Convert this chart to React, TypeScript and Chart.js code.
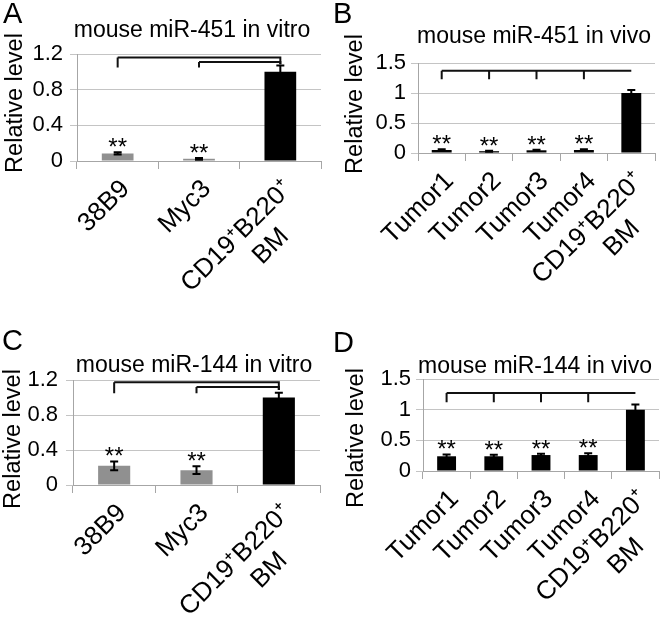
import React, { useEffect, useRef } from "react";
import { Chart, registerables } from "chart.js";

Chart.register(...registerables);

const FONT = "'Liberation Sans', Arial, Helvetica, sans-serif";
const GRID = "#c4c4c4";
const AXIS = "#a6a6a6";

// ---------- data ----------
const vitroCategories = ["38B9", "Myc3", ["CD19\u207AB220\u207A", "BM     "]];
const vivoCategories = ["Tumor1", "Tumor2", "Tumor3", "Tumor4", ["CD19\u207AB220\u207A", "BM     "]];

const mir451VitroValues = [0.085, 0.025, 1.0];
const mir451VitroErrors = [0.012, 0.01, 0.07];
const mir451VivoValues = [0.05, 0.03, 0.045, 0.05, 1.0];
const mir451VivoErrors = [0.012, 0.008, 0.01, 0.012, 0.05];
const mir144VitroValues = [0.22, 0.17, 1.0];
const mir144VitroErrors = [0.05, 0.045, 0.055];
const mir144VivoValues = [0.24, 0.24, 0.26, 0.26, 1.0];
const mir144VivoErrors = [0.03, 0.025, 0.02, 0.03, 0.085];

const vitroStars = ["**", "**", ""];
const vivoStars = ["**", "**", "**", "**", ""];

const vitroTickLabels = [0, 0.4, 0.8, 1.2];
const vivoTickLabels = [0, 0.5, 1, 1.5];

const vitroBarColors = ["#909090", "#909090", "#000000"];
const vivoBarColors = ["#000000", "#000000", "#000000", "#000000", "#000000"];

// significance brackets (data units)
const mir451VitroBracketLevels = [1.16, 1.11];
const mir451VitroBracketStarts = [0, 1];
const mir144VitroBracketLevels = [1.175, 1.12];
const mir144VitroBracketStarts = [0, 1];
const vitroBracketDrop = 1.05;
const vitroBracketEndDrop = 1.085;
const mir451VivoBracketLevel = 1.37;
const mir451VivoBracketDrop = 1.23;
const mir144VivoBracketLevel = 1.27;
const mir144VivoBracketDrop = 1.12;

type Bracket = { level: number; start: number; end: number; drops: number[]; dropTo: number; endDrop: number | null };

const vitroBrackets = (levels: number[], starts: number[], n: number): Bracket[] =>
  levels.map((lv, i) => ({ level: lv, start: starts[i], end: n - 1, drops: [starts[i]], dropTo: vitroBracketDrop, endDrop: vitroBracketEndDrop }));
const vivoBracket = (level: number, drop: number, n: number): Bracket[] => [
  { level, start: 0, end: n - 1, drops: Array.from({ length: n - 1 }, (_, i) => i), dropTo: drop, endDrop: null },
];

type Spec = {
  left: number; top: number; w: number; h: number;
  area: { left: number; right: number; top: number; bottom: number };
  letter: string; letterPos: [number, number];
  title: string; titlePos: [number, number];
  yTitlePos: [number, number];
  labels: any[]; values: number[]; errors: number[]; colors: string[]; stars: string[];
  yMax: number; gridStep: number; tickLabels: number[]; yPad: number; barPct: number;
  brackets: Bracket[];
};

const panels: Spec[] = [
  {
    left: 0, top: 0, w: 331, h: 310,
    area: { left: 77, right: 321, top: 54, bottom: 161 },
    letter: "A", letterPos: [3, 23],
    title: "mouse miR-451 in vitro", titlePos: [192, 37],
    yTitlePos: [16, 103],
    labels: vitroCategories, values: mir451VitroValues, errors: mir451VitroErrors, colors: vitroBarColors, stars: vitroStars,
    yMax: 1.2, gridStep: 0.2, tickLabels: vitroTickLabels, yPad: 7, barPct: 0.39,
    brackets: vitroBrackets(mir451VitroBracketLevels, mir451VitroBracketStarts, 3),
  },
  {
    left: 331, top: 0, w: 331, h: 310,
    area: { left: 87, right: 324, top: 63, bottom: 153 },
    letter: "B", letterPos: [2, 23],
    title: "mouse miR-451 in vivo", titlePos: [203, 43],
    yTitlePos: [25, 104],
    labels: vivoCategories, values: mir451VivoValues, errors: mir451VivoErrors, colors: vivoBarColors, stars: vivoStars,
    yMax: 1.5, gridStep: 0.5, tickLabels: vivoTickLabels, yPad: 5, barPct: 0.42,
    brackets: vivoBracket(mir451VivoBracketLevel, mir451VivoBracketDrop, 5),
  },
  {
    left: 0, top: 310, w: 331, h: 317,
    area: { left: 73, right: 320, top: 70, bottom: 175 },
    letter: "C", letterPos: [2, 40],
    title: "mouse miR-144 in vitro", titlePos: [194, 62],
    yTitlePos: [14, 129],
    labels: vitroCategories, values: mir144VitroValues, errors: mir144VitroErrors, colors: vitroBarColors, stars: vitroStars,
    yMax: 1.2, gridStep: 0.2, tickLabels: vitroTickLabels, yPad: 8, barPct: 0.39,
    brackets: vitroBrackets(mir144VitroBracketLevels, mir144VitroBracketStarts, 3),
  },
  {
    left: 331, top: 310, w: 331, h: 317,
    area: { left: 92, right: 328, top: 69, bottom: 161 },
    letter: "D", letterPos: [2, 42],
    title: "mouse miR-144 in vivo", titlePos: [204, 63],
    yTitlePos: [26, 128],
    labels: vivoCategories, values: mir144VivoValues, errors: mir144VivoErrors, colors: vivoBarColors, stars: vivoStars,
    yMax: 1.5, gridStep: 0.5, tickLabels: vivoTickLabels, yPad: 5, barPct: 0.4,
    brackets: vivoBracket(mir144VivoBracketLevel, mir144VivoBracketDrop, 5),
  },
];

function annotations(spec: Spec) {
  return {
    id: "annot" + spec.letter,
    afterDatasetsDraw(chart: any) {
      const { ctx } = chart;
      const x = chart.scales.x;
      const y = chart.scales.y;
      ctx.save();
      ctx.strokeStyle = "#000";
      ctx.fillStyle = "#000";
      ctx.lineWidth = 2;
      spec.values.forEach((v, i) => {
        const e = spec.errors[i];
        const px = x.getPixelForValue(i);
        const yt = y.getPixelForValue(v + e);
        const yb = y.getPixelForValue(Math.max(0, v - e));
        ctx.beginPath();
        ctx.moveTo(px, yt); ctx.lineTo(px, yb);
        ctx.moveTo(px - 4, yt); ctx.lineTo(px + 4, yt);
        ctx.moveTo(px - 4, yb); ctx.lineTo(px + 4, yb);
        ctx.stroke();
        if (spec.stars[i]) {
          ctx.font = `24px ${FONT}`;
          ctx.textAlign = "center";
          ctx.textBaseline = "alphabetic";
          ctx.fillText(spec.stars[i], px, yt + 3);
        }
      });
      ctx.strokeStyle = "#111";
      spec.brackets.forEach((b) => {
        const yl = y.getPixelForValue(b.level);
        const yd = y.getPixelForValue(b.dropTo);
        const xs = x.getPixelForValue(b.start);
        const xe = x.getPixelForValue(b.end);
        ctx.beginPath();
        ctx.moveTo(xs, yl); ctx.lineTo(xe, yl);
        if (b.endDrop !== null) { ctx.lineTo(xe, y.getPixelForValue(b.endDrop)); }
        b.drops.forEach((d) => {
          const xd = x.getPixelForValue(d);
          ctx.moveTo(xd, yl); ctx.lineTo(xd, yd);
        });
        ctx.stroke();
      });
      ctx.restore();
    },
    afterDraw(chart: any) {
      const { ctx } = chart;
      ctx.save();
      ctx.fillStyle = "#000";
      ctx.textBaseline = "alphabetic";
      ctx.textAlign = "left";
      ctx.font = `29px ${FONT}`;
      ctx.fillText(spec.letter, spec.letterPos[0], spec.letterPos[1]);
      ctx.textAlign = "center";
      ctx.font = `23px ${FONT}`;
      ctx.fillText(spec.title, spec.titlePos[0], spec.titlePos[1]);
      ctx.translate(spec.yTitlePos[0], spec.yTitlePos[1]);
      ctx.rotate(-Math.PI / 2);
      ctx.textBaseline = "middle";
      ctx.font = `23.5px ${FONT}`;
      ctx.fillText("Relative level", 0, 0);
      ctx.restore();
    },
  };
}

function buildConfig(spec: Spec): any {
  return {
    type: "bar",
    data: {
      labels: spec.labels,
      datasets: [
        {
          data: spec.values,
          backgroundColor: spec.colors,
          borderWidth: 0,
          barPercentage: spec.barPct,
          categoryPercentage: 1,
        },
      ],
    },
    options: {
      responsive: false,
      animation: false,
      layout: { padding: { left: 0, top: spec.area.top, right: spec.w - spec.area.right, bottom: 0 } },
      plugins: { legend: { display: false }, tooltip: { enabled: false }, title: { display: false } },
      scales: {
        x: {
          offset: true,
          grid: { display: true, drawOnChartArea: false, drawTicks: true, tickLength: 8, color: AXIS, offset: true },
          border: { display: true, color: AXIS, width: 1 },
          ticks: {
            autoSkip: false,
            minRotation: 45,
            maxRotation: 45,
            labelOffset: 8,
            padding: 5,
            color: "#000",
            font: { family: FONT, size: 26, lineHeight: 1.2 },
          },
          afterFit: (s: any) => {
            s.height = spec.h - spec.area.bottom;
            s.paddingLeft = 0; s.paddingRight = 0; s.paddingTop = 0; s.paddingBottom = 0;
          },
        },
        y: {
          min: 0,
          max: spec.yMax,
          grid: { color: GRID, tickLength: 7, drawTicks: true, tickColor: GRID },
          border: { display: true, color: AXIS, width: 1 },
          ticks: {
            stepSize: spec.gridStep,
            padding: spec.yPad,
            color: "#000",
            font: { family: FONT, size: 22 },
            callback: (v: number) => {
              const r = Math.round(v * 10) / 10;
              return spec.tickLabels.some((t) => Math.abs(t - r) < 1e-6) ? String(r) : "";
            },
          },
          afterFit: (s: any) => {
            s.width = spec.area.left;
            s.paddingLeft = 0; s.paddingRight = 0; s.paddingTop = 0; s.paddingBottom = 0;
          },
        },
      },
    },
    plugins: [annotations(spec)],
  };
}

function Panel({ spec }: { spec: Spec }) {
  const ref = useRef<HTMLCanvasElement>(null);
  useEffect(() => {
    if (!ref.current) return;
    const chart = new Chart(ref.current, buildConfig(spec));
    return () => chart.destroy();
  }, [spec]);
  return (
    <canvas
      ref={ref}
      width={spec.w}
      height={spec.h}
      style={{ position: "absolute", left: spec.left, top: spec.top }}
    />
  );
}

export default function App() {
  return (
    <div style={{ position: "absolute", left: 0, top: 0, width: 662, height: 627, background: "#fff", overflow: "hidden" }}>
      {panels.map((p) => (
        <Panel key={p.letter} spec={p} />
      ))}
    </div>
  );
}
